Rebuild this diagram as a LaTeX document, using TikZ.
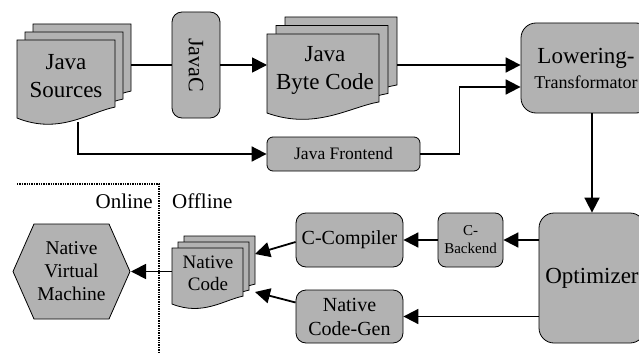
\documentclass[tikz,border=0pt]{standalone}
\usepackage{fontspec}
\setmainfont{Liberation Serif}
\usetikzlibrary{arrows.meta,calc}
\definecolor{boxgray}{RGB}{178,178,178}
\newcommand{\fs}[2]{\fontsize{#1}{#2}\selectfont}
\tikzset{
  procbox/.style={draw, fill=boxgray, line width=0.8pt, rounded corners=15pt,
    align=center, inner sep=0pt},
  % six-sided box, pointed left and right
  hexbox/.style={align=center, inner sep=0pt, outer sep=0pt,
    minimum width=119pt, minimum height=97pt,
    path picture={
      \filldraw[fill=boxgray, line width=0.8pt]
        ([xshift=1pt]path picture bounding box.west)
        -- ([xshift=22pt,yshift=-1pt]path picture bounding box.north west)
        -- ([xshift=-22pt,yshift=-1pt]path picture bounding box.north east)
        -- ([xshift=-1pt]path picture bounding box.east)
        -- ([xshift=-22pt,yshift=1pt]path picture bounding box.south east)
        -- ([xshift=22pt,yshift=1pt]path picture bounding box.south west)
        -- cycle;}},
  % one page of a document stack, wavy lower edge
  sheet/.style 2 args={minimum width=#1pt, minimum height=#2pt,
    inner sep=0pt, outer sep=0pt,
    append after command={\pgfextra{
      \filldraw[fill=boxgray, line width=0.8pt]
        (\tikzlastnode.north west) -- (\tikzlastnode.north east)
        -- ($(\tikzlastnode.south east)+(0,{-0.14*#2})$)
        .. controls +({-0.26*#1},{0.064*#2}) and +({0.43*#1},{0.22*#2})
        .. (\tikzlastnode.south west) -- cycle;}}},
  doclabel/.style={align=center, inner sep=0pt},
  link/.style={line width=1.8pt},
  flow/.style={-{Triangle[length=15pt,width=15pt]}, line width=1.8pt},
  divider/.style={line width=1.3pt, dash pattern=on 1.3pt off 1.1pt},
}

\begin{document}
\begin{tikzpicture}[x=1pt, y={(0,-1pt)}]
  \useasboundingbox (0,0) rectangle (639,353);
  \clip (0,0) rectangle (639,353);

  % ---- Java sources ----
  \node[sheet={98}{78}] at (82,63) (src3) {};
  \node[sheet={98}{78}] at (74,71) (src2) {};
  \node[sheet={98}{78}] at (66,79) (src)  {};
  \node[doclabel, font=\fs{23}{28}] at (66,76) (srctxt) {Java\\Sources};

  \node[procbox, rounded corners=10pt, minimum width=48pt, minimum height=106pt,
    font=\fs{22}{26}] at (196,65) (javac) {\rotatebox{-90}{JavaC}};

  % ---- byte code ----
  \node[sheet={112}{79}] at (341,56.5) (bc3) {};
  \node[sheet={112}{79}] at (332,65)   (bc2) {};
  \node[sheet={112}{79}] at (323,73.5) (bc)  {};
  \node[doclabel, font=\fs{23}{28}] at (325,70) (bctxt) {Java\\Byte Code};

  \node[procbox, rounded corners=6pt, minimum width=153pt, minimum height=34pt,
    font=\fs{17.5}{20}] at (343.5,154) (jfe) {Java Frontend};

  % ---- middle end ----
  \node[procbox, minimum width=130pt, minimum height=90pt, font=\fs{23}{25}]
    at (586,68) (lower) {Lowering-\\{\fs{18}{20}Transformator}};
  \node[procbox, minimum width=106pt, minimum height=130pt, font=\fs{23}{26}]
    at (592,278) (opt) {Optimizer};

  % ---- back ends ----
  \node[procbox, rounded corners=8pt, minimum width=65pt, minimum height=54pt,
    font=\fs{15}{18}] at (470.5,240) (cbe) {C-\\Backend};
  \node[procbox, rounded corners=10pt, minimum width=107pt, minimum height=54pt,
    font=\fs{20}{24}] at (349.5,240) (cc) {C-Compiler};
  \node[procbox, rounded corners=10pt, minimum width=107pt, minimum height=53pt,
    font=\fs{20}{24}] at (349.5,316.5) (ncg) {Native\\Code-Gen};

  % ---- native code ----
  \node[sheet={71}{56}] at (219.5,264) (nc3) {};
  \node[sheet={71}{56}] at (213.5,270) (nc2) {};
  \node[sheet={71}{56}] at (207.5,276) (nc)  {};
  \node[doclabel, font=\fs{19}{22}] at (208,273) (nctxt) {Native\\Code};

  \node[hexbox, font=\fs{19.5}{23}] at (71.5,271.5) (nvm) {Native\\Virtual\\Machine};

  % online / offline border
  \draw[divider] (17,184) -- (159,184) -- (159,353);
  \node[anchor=base east, inner sep=0pt, font=\fs{21}{24}] at (153,208) (online) {Online};
  \node[anchor=base west, inner sep=0pt, font=\fs{21}{24}] at (172,208) (offline) {Offline};

  % ---- Edges ----
  \draw[link] (javac.west -| src3.east) -- (javac.west);
  \draw[flow] (javac.east) -- (javac.east -| bc.west);
  \draw[flow] (javac.east -| bc3.east) -- (javac.east -| lower.west);
  \draw[flow] ([xshift=12pt,yshift=-4pt]src.south) |- (jfe.west);
  \draw[flow] (jfe.east) -- ++(39,0) |- ([yshift=-19pt]lower.west);
  \draw[flow] (lower.south -| opt.north) -- (opt.north);
  \draw[flow] (opt.west |- cbe.east) -- (cbe.east);
  \draw[flow] (cbe.west) -- (cc.east);
  \draw[flow] (opt.west |- ncg.east) -- (ncg.east);
  \draw[flow] ([yshift=-2pt]cc.west) -- ([yshift=10pt]nc3.east);
  \draw[flow] ([yshift=14pt]ncg.west) -- ([yshift=-28pt]nc3.east);
  \draw[flow] (nc.west |- nvm.east) -- (nvm.east);
\end{tikzpicture}
\end{document}
